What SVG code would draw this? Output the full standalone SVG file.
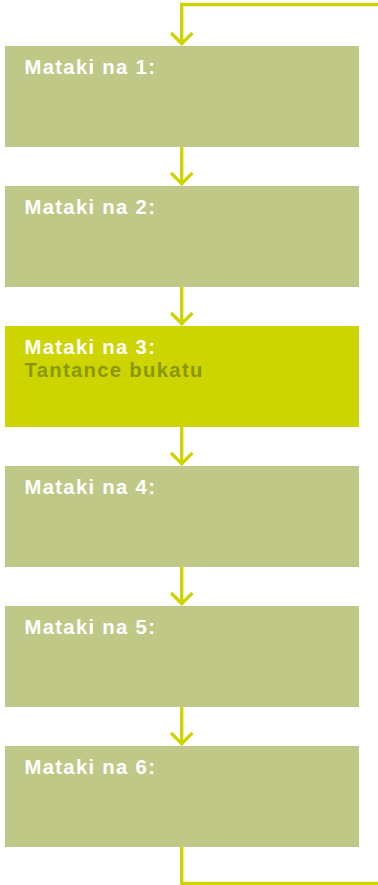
<svg xmlns="http://www.w3.org/2000/svg" width="378" height="885" viewBox="0 0 378 885">
<style>
.box{fill:#BFC886}
.hl{fill:#CDD400}
.t{font-family:"Liberation Sans",Arial,sans-serif;font-weight:bold;font-size:20.3px;letter-spacing:1.3px;fill:#FFFFFF}
.t2{font-family:"Liberation Sans",Arial,sans-serif;font-weight:bold;font-size:20.3px;letter-spacing:1.3px;fill:#8A9800}
.c{fill:none;stroke:#CDD400;stroke-width:3.3}
</style>
<rect width="378" height="885" fill="#FFFFFF"/>
<g id="connectors">
<path class="c" d="M378 4.5 H181.7 V45"/>
<path class="c" d="M171 33 L181.7 43.7 L192.4 33"/>
<path class="c" d="M181.7 147 V185"/>
<path class="c" d="M171 173 L181.7 183.7 L192.4 173"/>
<path class="c" d="M181.7 287 V325"/>
<path class="c" d="M171 313 L181.7 323.7 L192.4 313"/>
<path class="c" d="M181.7 427 V465"/>
<path class="c" d="M171 453 L181.7 463.7 L192.4 453"/>
<path class="c" d="M181.7 567 V605"/>
<path class="c" d="M171 593 L181.7 603.7 L192.4 593"/>
<path class="c" d="M181.7 707 V745"/>
<path class="c" d="M171 733 L181.7 743.7 L192.4 733"/>
<path class="c" d="M181.7 847 V883.3 H378"/>
</g>
<g id="step1"><rect class="box" x="5" y="46" width="354" height="101"/><text class="t" x="24.5" y="74">Mataki na 1:</text></g>
<g id="step2"><rect class="box" x="5" y="186" width="354" height="101"/><text class="t" x="24.5" y="214">Mataki na 2:</text></g>
<g id="step3"><rect class="hl" x="5" y="326" width="354" height="101"/><text class="t" x="24.5" y="354">Mataki na 3:</text><text class="t2" x="24.5" y="376.7">Tantance bukatu</text></g>
<g id="step4"><rect class="box" x="5" y="466" width="354" height="101"/><text class="t" x="24.5" y="494">Mataki na 4:</text></g>
<g id="step5"><rect class="box" x="5" y="606" width="354" height="101"/><text class="t" x="24.5" y="634">Mataki na 5:</text></g>
<g id="step6"><rect class="box" x="5" y="746" width="354" height="101"/><text class="t" x="24.5" y="774">Mataki na 6:</text></g>
</svg>
